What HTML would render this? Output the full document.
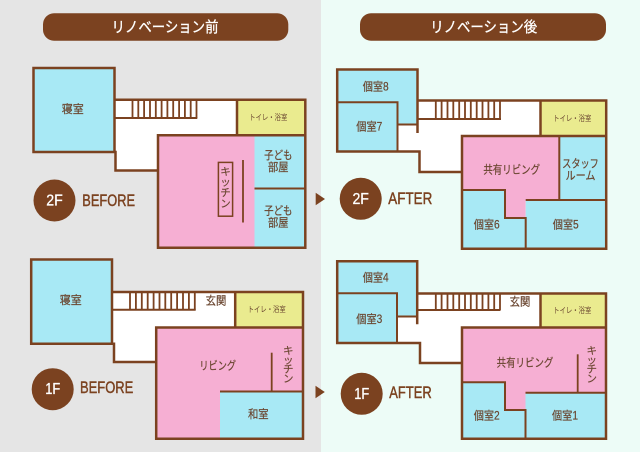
<!DOCTYPE html>
<html><head><meta charset="utf-8"><style>
html,body{margin:0;padding:0;width:640px;height:452px;overflow:hidden;background:#e5e5e5}
svg{display:block}
text{font-family:"Liberation Sans","Noto Sans CJK JP",sans-serif}
.lb{font-size:11.5px;fill:#6a4630;stroke:#6a4630;stroke-width:0.2;text-anchor:middle;dominant-baseline:central}
.sm{font-size:8px;fill:#6a4630;text-anchor:middle;dominant-baseline:central}
.vt{font-size:10.5px;fill:#6a4630;stroke:#6a4630;stroke-width:0.15;text-anchor:middle;dominant-baseline:central}
.w{fill:none;stroke:#7b4220;stroke-width:2.5;stroke-linecap:square;stroke-linejoin:miter}
.iw{fill:none;stroke:#7b4220;stroke-width:2;stroke-linecap:butt}
.st{fill:none;stroke:#7b4220;stroke-width:1.8}
.bl{fill:#a8e9f5}.pk{fill:#f6afd3}.ye{fill:#eaeb8f}.wh{fill:#fff}
.hd{font-size:15px;fill:#fff;stroke:#fff;stroke-width:0.3;text-anchor:middle;dominant-baseline:central}
.cf{font-size:16px;fill:#fff;stroke:#fff;stroke-width:0.3;text-anchor:middle;dominant-baseline:central}
.ba{font-size:17px;fill:#7b4220;stroke:#7b4220;stroke-width:0.45;dominant-baseline:central}
</style></head><body>
<svg width="640" height="452" viewBox="0 0 640 452" xmlns="http://www.w3.org/2000/svg">
<rect x="0" y="0" width="321" height="452" fill="#e5e5e5"/>
<rect x="321" y="0" width="319" height="452" fill="#edfcf7"/>

<!-- headers -->
<rect x="43" y="13.3" width="245.3" height="27.4" rx="11" fill="#7b4220"/>
<text class="hd" x="165" y="27.5" textLength="107" lengthAdjust="spacingAndGlyphs">リノベーション前</text>
<rect x="360" y="13.3" width="246" height="27.4" rx="11" fill="#7b4220"/>
<text class="hd" x="483.7" y="27.5" textLength="107" lengthAdjust="spacingAndGlyphs">リノベーション後</text>

<!-- ===== 2F BEFORE ===== -->
<path class="wh" d="M33.5,68H114.5V99.7H305.3V247.8H158V170.5H115.5V152H33.5Z"/>
<rect class="bl" x="33.5" y="68" width="81" height="84"/>
<rect class="ye" x="237" y="99.7" width="68.3" height="35.5"/>
<rect class="pk" x="158" y="135.2" width="147.3" height="112.6"/>
<rect class="bl" x="254.5" y="135.2" width="50.8" height="112.6"/>
<path class="st" d="M132.5,99.7V118M138.3,99.7V118M144.1,99.7V118M150,99.7V118M155.8,99.7V118M161.6,99.7V118M167.4,99.7V118M173.2,99.7V118M179.1,99.7V118M184.9,99.7V118M190.7,99.7V118M196.5,99.7V118"/>
<path class="iw" d="M114.5,118H197.3"/>
<path class="w" d="M33.5,68H114.5V152H33.5Z M114.5,99.7H305.3V247.8H158V135.2H305.3 M237,99.7V135.2 M115.5,152V170.5H158"/>
<path class="iw" d="M254.5,188.5H305.3"/>
<rect x="218.4" y="162.4" width="14.2" height="53.8" fill="none" stroke="#7b4220" stroke-width="1.5"/>
<path class="st" d="M243,160V222.5"/>
<text class="lb" x="72.7" y="110" textLength="22" lengthAdjust="spacingAndGlyphs">寝室</text>
<text class="sm" x="268.3" y="117.7" textLength="38" lengthAdjust="spacingAndGlyphs">トイレ・浴室</text>
<text class="lb" x="278.3" y="156" textLength="28.3" lengthAdjust="spacingAndGlyphs">子ども</text>
<text class="lb" x="278.3" y="168" textLength="20.5" lengthAdjust="spacingAndGlyphs">部屋</text>
<text class="lb" x="278.3" y="211.7" textLength="28.3" lengthAdjust="spacingAndGlyphs">子ども</text>
<text class="lb" x="278.3" y="223.5" textLength="20.5" lengthAdjust="spacingAndGlyphs">部屋</text>
<text class="vt" x="225.5" y="172">キ</text>
<text class="vt" x="225.5" y="182.5">ッ</text>
<text class="vt" x="225.5" y="193">チ</text>
<text class="vt" x="225.5" y="204">ン</text>
<circle cx="54.5" cy="200.5" r="21" fill="#7b4220"/>
<text class="cf" x="54.5" y="201" textLength="16.5" lengthAdjust="spacingAndGlyphs">2F</text>
<text class="ba" x="82.3" y="200.5" textLength="52.7" lengthAdjust="spacingAndGlyphs">BEFORE</text>
<polygon points="315.7,192.7 325,199 315.7,205.3" fill="#7b4220"/>

<!-- ===== 2F AFTER ===== -->
<path class="wh" d="M337.2,69.5H417.5V100.5H606.2V248.8H462V172H419.5V151.5H337.2Z"/>
<path class="bl" d="M337.2,69.5H417.5V124.5H397.5V102.3H337.2Z"/>
<rect class="bl" x="337.2" y="102.3" width="60.3" height="49.2"/>
<rect class="ye" x="540.5" y="100.5" width="65.7" height="35.5"/>
<path class="pk" d="M462,136H559.3V200H525.7V218H505V190H462Z"/>
<rect class="bl" x="559.3" y="136" width="46.9" height="64"/>
<rect class="bl" x="525.7" y="200" width="80.5" height="48.8"/>
<path class="bl" d="M462,190H505V218H525.7V248.8H462Z"/>
<path class="st" d="M435.8,100.5V119M441.6,100.5V119M447.5,100.5V119M453.3,100.5V119M459.2,100.5V119M465,100.5V119M470.8,100.5V119M476.7,100.5V119M482.5,100.5V119M488.4,100.5V119M494.2,100.5V119M500,100.5V119"/>
<path class="iw" d="M417.5,119H501"/>
<path class="w" d="M337.2,69.5H417.5V131.7 M337.2,69.5V151.5H419.5V172H462 M417.5,100.5H606.2V248.8H462V136H606.2 M540.5,100.5V136"/>
<path class="iw" d="M337.2,102.3H397.5V151.5 M397.5,124.5H417.5 M559.3,136V200 M525.7,200H606.2 M462,190H505V218H525.7V248.8"/>
<text class="lb" x="375.7" y="87.3" textLength="26" lengthAdjust="spacingAndGlyphs">個室8</text>
<text class="lb" x="369.3" y="127.7" textLength="26" lengthAdjust="spacingAndGlyphs">個室7</text>
<text class="sm" x="572.3" y="118.3" textLength="38" lengthAdjust="spacingAndGlyphs">トイレ・浴室</text>
<text class="lb" x="511.7" y="170.7" textLength="56.7" lengthAdjust="spacingAndGlyphs">共有リビング</text>
<text class="lb" x="580.5" y="164.3" textLength="36.7" lengthAdjust="spacingAndGlyphs">スタッフ</text>
<text class="lb" x="580.5" y="176.7" textLength="30" lengthAdjust="spacingAndGlyphs">ルーム</text>
<text class="lb" x="486.7" y="225.3" textLength="26" lengthAdjust="spacingAndGlyphs">個室6</text>
<text class="lb" x="565.7" y="225.3" textLength="26" lengthAdjust="spacingAndGlyphs">個室5</text>
<circle cx="360.7" cy="198.8" r="21" fill="#7b4220"/>
<text class="cf" x="360.7" y="199.3" textLength="16.5" lengthAdjust="spacingAndGlyphs">2F</text>
<text class="ba" x="388.3" y="198.7" textLength="44" lengthAdjust="spacingAndGlyphs">AFTER</text>

<!-- ===== 1F BEFORE ===== -->
<path class="wh" d="M31.2,259.5H112V292H303V438.8H156.2V362H114V343.8H31.2Z"/>
<rect class="bl" x="31.2" y="259.5" width="80.8" height="84.3"/>
<rect class="ye" x="235.2" y="292" width="67.8" height="35.5"/>
<rect class="pk" x="156.2" y="327.5" width="146.8" height="111.3"/>
<rect class="bl" x="220" y="391.5" width="83" height="47.3"/>
<path class="st" d="M130,292V309.7M135.9,292V309.7M141.8,292V309.7M147.7,292V309.7M153.6,292V309.7M159.5,292V309.7M165.3,292V309.7M171.2,292V309.7M177.1,292V309.7M183,292V309.7M188.9,292V309.7M194.8,292V309.7"/>
<path class="iw" d="M112,309.7H195.7"/>
<path class="w" d="M31.2,259.5H112V343.8H31.2Z M112,292H303V438.8H156.2V327.5H303 M235.2,292V327.5 M114,343.8V362H156.2"/>
<path class="iw" d="M220,391.5H303"/>
<path class="st" d="M271.7,352.7V391.5"/>
<text class="lb" x="70.7" y="301" textLength="22" lengthAdjust="spacingAndGlyphs">寝室</text>
<text class="lb" x="216" y="301.7" textLength="20.7" lengthAdjust="spacingAndGlyphs">玄関</text>
<text class="sm" x="266.7" y="309.3" textLength="38" lengthAdjust="spacingAndGlyphs">トイレ・浴室</text>
<text class="lb" x="217.7" y="366.7" textLength="36.7" lengthAdjust="spacingAndGlyphs">リビング</text>
<text class="lb" x="258.3" y="415" textLength="20.7" lengthAdjust="spacingAndGlyphs">和室</text>
<text class="vt" x="288.3" y="351">キ</text>
<text class="vt" x="288.3" y="360.5">ッ</text>
<text class="vt" x="288.3" y="369.7">チ</text>
<text class="vt" x="288.3" y="379">ン</text>
<circle cx="52.7" cy="389.2" r="21" fill="#7b4220"/>
<text class="cf" x="52.7" y="389.7" textLength="15" lengthAdjust="spacingAndGlyphs">1F</text>
<text class="ba" x="80" y="387.7" textLength="53.3" lengthAdjust="spacingAndGlyphs">BEFORE</text>
<polygon points="315.5,385.7 324.8,392 315.5,398.3" fill="#7b4220"/>

<!-- ===== 1F AFTER ===== -->
<path class="wh" d="M337.2,261.2H417.2V293.5H606V438.8H462V363H420V343H337.2Z"/>
<path class="bl" d="M337.2,261.2H417.2V316.5H397V293.3H337.2Z"/>
<rect class="bl" x="337.2" y="293.3" width="59.8" height="49.7"/>
<rect class="ye" x="540.5" y="293.5" width="65.5" height="34"/>
<path class="pk" d="M462,327.5H606V392.7H525.5V410H505V382.3H462Z"/>
<path class="bl" d="M462,382.3H505V410H525.5V438.8H462Z"/>
<rect class="bl" x="525.5" y="392.7" width="80.5" height="46.1"/>
<path class="st" d="M435.8,293.5V310M441.6,293.5V310M447.5,293.5V310M453.3,293.5V310M459.2,293.5V310M465,293.5V310M470.8,293.5V310M476.7,293.5V310M482.5,293.5V310M488.4,293.5V310M494.2,293.5V310M500,293.5V310"/>
<path class="iw" d="M417.2,310H500.5"/>
<path class="w" d="M337.2,261.2H417.2V323 M337.2,261.2V343H420V363H462 M417.2,293.5H606V438.8H462V327.5H606 M540.5,293.5V327.5"/>
<path class="iw" d="M337.2,293.3H397V343 M397,316.5H417.2 M525.5,392.7H606 M462,382.3H505V410H525.5V438.8"/>
<path class="st" d="M577.7,354.3V392.7"/>
<text class="lb" x="375.7" y="278.3" textLength="26" lengthAdjust="spacingAndGlyphs">個室4</text>
<text class="lb" x="369.3" y="320" textLength="26" lengthAdjust="spacingAndGlyphs">個室3</text>
<text class="lb" x="520" y="302.3" textLength="20.7" lengthAdjust="spacingAndGlyphs">玄関</text>
<text class="sm" x="572.3" y="310.5" textLength="38" lengthAdjust="spacingAndGlyphs">トイレ・浴室</text>
<text class="lb" x="525" y="363.3" textLength="56.7" lengthAdjust="spacingAndGlyphs">共有リビング</text>
<text class="vt" x="591.7" y="351">キ</text>
<text class="vt" x="591.7" y="360.5">ッ</text>
<text class="vt" x="591.7" y="369.7">チ</text>
<text class="vt" x="591.7" y="379">ン</text>
<text class="lb" x="486.7" y="416.7" textLength="26" lengthAdjust="spacingAndGlyphs">個室2</text>
<text class="lb" x="565" y="416.7" textLength="26" lengthAdjust="spacingAndGlyphs">個室1</text>
<circle cx="361.7" cy="393.8" r="21" fill="#7b4220"/>
<text class="cf" x="361.7" y="394.3" textLength="15" lengthAdjust="spacingAndGlyphs">1F</text>
<text class="ba" x="389.3" y="392.7" textLength="42.4" lengthAdjust="spacingAndGlyphs">AFTER</text>
</svg>
</body></html>
